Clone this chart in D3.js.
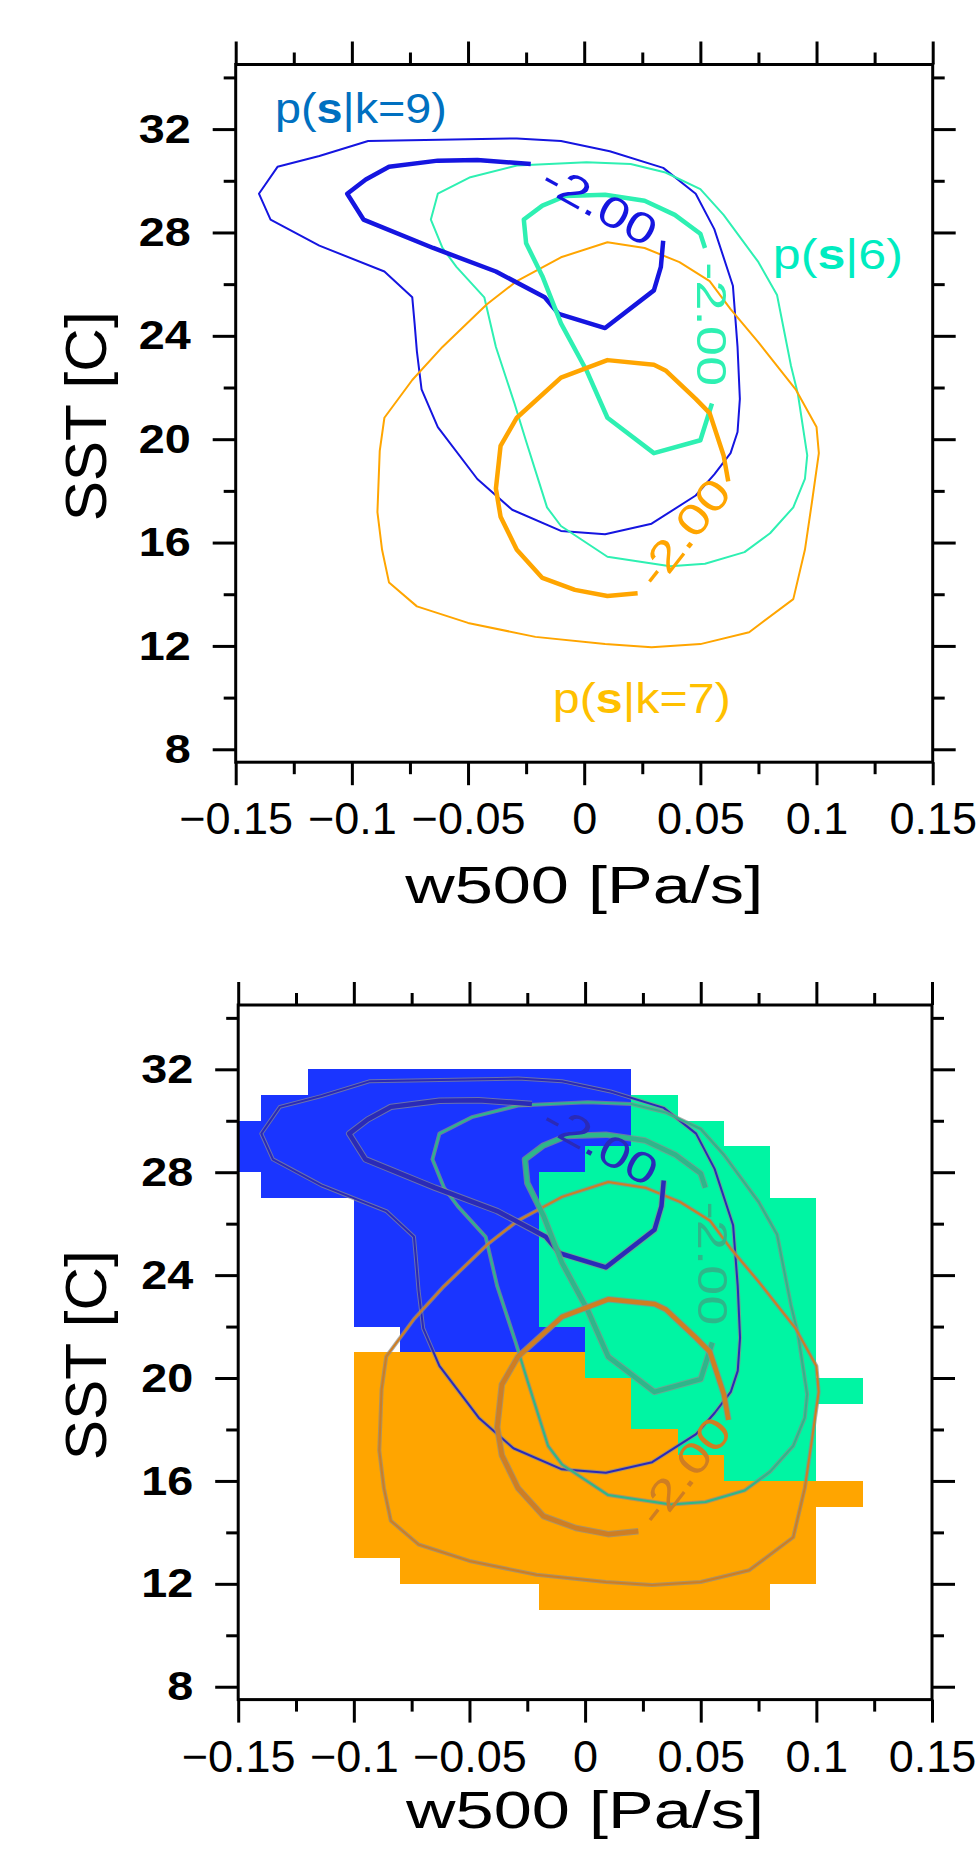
<!DOCTYPE html>
<html>
<head>
<meta charset="utf-8">
<script src="https://cdn.jsdelivr.net/npm/d3@7"></script>
<style>
  body { margin: 0; background: #fff; }
  text { font-family: "Liberation Sans", Arial, Helvetica, sans-serif; }
</style>
</head>
<body>
<div id="chart"></div>
<script>
// canvas
const svgWidth = 976
const svgHeight = 1850

// axes
const xDomain = [-0.15, 0.15]
const yDomain = [7.5, 34.5]
const xMajor = [-0.15, -0.1, -0.05, 0, 0.05, 0.1, 0.15]
const xMinor = [-0.125, -0.075, -0.025, 0.025, 0.075, 0.125]
const yMajor = [8, 12, 16, 20, 24, 28, 32]
const yMinor = [10, 14, 18, 22, 26, 30, 34]

// contours of log p(s|k), points are [w500, SST]
// outer (thin) contour of each cluster, closed
const k9Outer = [[-0.093, 31.54], [-0.029, 31.64], [-0.010, 31.54], [0.011, 31.14], [0.034, 30.50], [0.048, 29.50],
  [0.056, 28.13], [0.064, 25.94], [0.066, 23.57], [0.067, 21.56], [0.066, 20.28], [0.063, 19.46], [0.056, 18.64],
  [0.048, 17.82], [0.029, 16.73], [0.009, 16.32], [-0.010, 16.45], [-0.031, 17.27], [-0.046, 18.46], [-0.063, 20.47],
  [-0.070, 21.93], [-0.072, 23.39], [-0.073, 24.48], [-0.074, 25.49], [-0.086, 26.49], [-0.114, 27.49], [-0.135, 28.50],
  [-0.140, 29.50], [-0.132, 30.54], [-0.114, 30.96]]
const k6Outer = [[-0.063, 29.50], [-0.049, 30.14], [-0.029, 30.59], [0.001, 30.72], [0.020, 30.65], [0.035, 30.32],
  [0.050, 29.68], [0.060, 28.68], [0.075, 26.85], [0.083, 25.58], [0.089, 22.84], [0.092, 21.74], [0.096, 19.37],
  [0.095, 18.46], [0.090, 17.36], [0.080, 16.36], [0.069, 15.63], [0.052, 15.18], [0.037, 15.08], [0.010, 15.45],
  [-0.010, 16.64], [-0.016, 17.36], [-0.025, 19.92], [-0.030, 21.38], [-0.038, 23.57], [-0.043, 25.49], [-0.055, 26.67],
  [-0.061, 27.40], [-0.066, 28.50]]
const k7Outer = [[0.010, 27.62], [-0.010, 27.04], [-0.029, 26.12], [-0.042, 25.21], [-0.061, 23.57], [-0.074, 22.29],
  [-0.086, 20.83], [-0.088, 19.55], [-0.089, 17.18], [-0.087, 15.72], [-0.084, 14.45], [-0.072, 13.53], [-0.050, 12.89],
  [-0.021, 12.35], [0.009, 12.07], [0.029, 11.95], [0.050, 12.07], [0.071, 12.53], [0.090, 13.81], [0.095, 15.72],
  [0.098, 17.55], [0.101, 19.46], [0.100, 20.47], [0.091, 21.93], [0.075, 23.75], [0.063, 25.03], [0.054, 26.12],
  [0.041, 26.85], [0.026, 27.40]]
// inner (thick) -2.00 contour, open where its label sits
const k9Inner = [[-0.023, 30.65], [-0.046, 30.80], [-0.063, 30.78], [-0.084, 30.54], [-0.094, 30.05], [-0.102, 29.50],
  [-0.095, 28.50], [-0.065, 27.40], [-0.038, 26.49], [-0.017, 25.49], [-0.011, 24.85], [0.009, 24.30], [0.030, 25.76],
  [0.033, 26.67], [0.034, 27.68]]
const k6Inner = [[0.055, 21.38], [0.050, 19.96], [0.030, 19.46], [0.010, 20.83], [0.001, 22.66], [-0.010, 24.48],
  [-0.018, 26.31], [-0.025, 27.58], [-0.026, 28.50], [-0.018, 29.04], [-0.008, 29.41], [0.009, 29.46], [0.026, 29.23],
  [0.039, 28.68], [0.050, 27.95], [0.052, 27.40]]
const k7Inner = [[0.023, 14.04], [0.010, 13.93], [-0.004, 14.17], [-0.018, 14.63], [-0.029, 15.72], [-0.036, 17.00],
  [-0.038, 18.09], [-0.036, 19.74], [-0.029, 20.83], [-0.010, 22.38], [0.010, 23.06], [0.030, 22.88], [0.035, 22.66],
  [0.048, 21.56], [0.054, 21.01], [0.060, 19.37], [0.062, 18.37]]

// contour level labels: cluster, [w500, SST] of label centre
const levelText = "-2.00"
const levelLabels = [["9", [0.0068, 29.1]], ["6", [0.0553, 24.45]], ["7", [0.0425, 16.4]]]

// most likely cluster of each grid cell (bottom panel)
// rows from SST 32 down to 11, each row 1 degree; columns from w500 = -0.16, each 0.02 wide
const gridTop = 32
const gridLeft = -0.16
const gridDx = 0.02
const gridDy = 1
const gridRows = [
  "..9999999.......",
  ".999999996......",
  "99999999966.....",
  "999999996666....",
  ".99999966666....",
  "...9999666666...",
  "...9999666666...",
  "...9999666666...",
  "...9999666666...",
  "...9999666666...",
  "....999966666...",
  "...7777766666...",
  "...77777766666..",
  "...7777776666...",
  "...7777777666...",
  "...7777777766...",
  "...77777777777..",
  "...7777777777...",
  "...7777777777...",
  "....777777777...",
  ".......77777...."
]

// colours
const fillColor = {"9": "#1a35ff", "6": "#00f5a3", "7": "#ffa500"}
const lineColor = {"9": "#1515e0", "6": "#2ef0b2", "7": "#ffa500"}
const lineColorDim = {"9": "#2a2ab8", "6": "#2db78a", "7": "#cf7e22"}

const contours = [
  {k: "9", pts: k9Outer, closed: true}, {k: "6", pts: k6Outer, closed: true}, {k: "7", pts: k7Outer, closed: true},
  {k: "9", pts: k9Inner, closed: false}, {k: "6", pts: k6Inner, closed: false}, {k: "7", pts: k7Inner, closed: false}
]
const labelAngle = {"9": 29, "6": 90, "7": -52}

let svg = d3.select("#chart")
  .append("svg")
  .attr("width", svgWidth)
  .attr("height", svgHeight)

svg.append("rect").attr("width", svgWidth).attr("height", svgHeight).attr("fill", "#fff")

let panels = [
  {left: 235.7, right: 932.7, top: 64.5, bottom: 762.2, xLabelGap: 141, filled: false},
  {left: 238.2, right: 932.0, top: 1005.0, bottom: 1699.6, xLabelGap: 128, filled: true}
]

let tickFmt = d3.format("~g")

panels.forEach((p, pi) => {
  let x = d3.scaleLinear().domain(xDomain).range([p.left, p.right])
  let y = d3.scaleLinear().domain(yDomain).range([p.bottom, p.top])
  let g = svg.append("g")

  g.append("clipPath").attr("id", "clip" + pi)
    .append("rect")
    .attr("x", p.left).attr("y", p.top)
    .attr("width", p.right - p.left).attr("height", p.bottom - p.top)

  let plot = g.append("g").attr("clip-path", `url(#clip${pi})`)

  // classification cells
  if (p.filled) {
    gridRows.forEach((row, r) => {
      row.split("").forEach((c, i) => {
        if (!fillColor[c]) return
        let x0 = gridLeft + i * gridDx
        let yTop = gridTop - r * gridDy
        plot.append("rect")
          .attr("x", Math.round(x(x0)))
          .attr("y", Math.round(y(yTop)))
          .attr("width", Math.round(x(x0 + gridDx)) - Math.round(x(x0)))
          .attr("height", Math.round(y(yTop - gridDy)) - Math.round(y(yTop)))
          .attr("fill", fillColor[c])
          .attr("shape-rendering", "crispEdges")
      })
    })
  }

  // contour lines
  let colors = p.filled ? lineColorDim : lineColor
  contours.forEach(c => {
    let line = d3.line()
      .x(d => x(d[0]))
      .y(d => y(d[1]))
      .curve(c.closed ? d3.curveLinearClosed : d3.curveLinear)
    let w = c.closed ? 2 : 4.5
    if (p.filled) {
      plot.append("path")
        .attr("d", line(c.pts))
        .attr("fill", "none")
        .attr("stroke", "#8c8c8c")
        .attr("stroke-opacity", 0.7)
        .attr("stroke-width", w + 2)
        .attr("stroke-linejoin", "round")
    }
    plot.append("path")
      .attr("d", line(c.pts))
      .attr("fill", "none")
      .attr("stroke", colors[c.k])
      .attr("stroke-width", w)
      .attr("stroke-linejoin", "round")
  })

  // contour labels
  levelLabels.forEach(([k, pos]) => {
    plot.append("text")
      .attr("transform", `translate(${x(pos[0])},${y(pos[1])}) rotate(${labelAngle[k]})`)
      .attr("text-anchor", "middle")
      .attr("dy", "0.36em")
      .attr("font-size", 43)
      .attr("textLength", 124)
      .attr("lengthAdjust", "spacingAndGlyphs")
      .attr("fill", colors[k])
      .text(levelText)
  })

  // axes, ticks outward on all four sides
  let styleAxis = sel => {
    sel.select(".domain").remove()
    sel.selectAll("line").attr("stroke", "#000").attr("stroke-width", 3)
  }
  g.append("g").attr("transform", `translate(0,${p.bottom})`)
    .call(d3.axisBottom(x).tickValues(xMajor).tickSize(23).tickPadding(17).tickFormat(tickFmt).tickSizeOuter(0))
    .call(styleAxis)
    .call(s => s.selectAll("text")
      .attr("font-size", 45)
      .attr("font-family", "'Liberation Sans', Arial, sans-serif")
      .attr("fill", "#000"))
  g.append("g").attr("transform", `translate(0,${p.bottom})`)
    .call(d3.axisBottom(x).tickValues(xMinor).tickSize(12).tickFormat("").tickSizeOuter(0))
    .call(styleAxis)
  g.append("g").attr("transform", `translate(0,${p.top})`)
    .call(d3.axisTop(x).tickValues(xMajor).tickSize(23).tickFormat("").tickSizeOuter(0))
    .call(styleAxis)
  g.append("g").attr("transform", `translate(0,${p.top})`)
    .call(d3.axisTop(x).tickValues(xMinor).tickSize(12).tickFormat("").tickSizeOuter(0))
    .call(styleAxis)
  g.append("g").attr("transform", `translate(${p.left},0)`)
    .call(d3.axisLeft(y).tickValues(yMajor).tickSize(23).tickFormat(d3.format("d")).tickSizeOuter(0))
    .call(styleAxis)
    .call(s => s.selectAll("text")
      .attr("x", null)
      .attr("transform", "translate(-45,0) scale(1.14,1)")
      .attr("font-size", 41)
      .attr("font-weight", "bold")
      .attr("font-family", "'Liberation Sans', Arial, sans-serif")
      .attr("fill", "#000"))
  g.append("g").attr("transform", `translate(${p.left},0)`)
    .call(d3.axisLeft(y).tickValues(yMinor).tickSize(12).tickFormat("").tickSizeOuter(0))
    .call(styleAxis)
  g.append("g").attr("transform", `translate(${p.right},0)`)
    .call(d3.axisRight(y).tickValues(yMajor).tickSize(23).tickFormat("").tickSizeOuter(0))
    .call(styleAxis)
  g.append("g").attr("transform", `translate(${p.right},0)`)
    .call(d3.axisRight(y).tickValues(yMinor).tickSize(12).tickFormat("").tickSizeOuter(0))
    .call(styleAxis)

  // frame
  g.append("rect")
    .attr("x", p.left).attr("y", p.top)
    .attr("width", p.right - p.left).attr("height", p.bottom - p.top)
    .attr("fill", "none")
    .attr("stroke", "#000")
    .attr("stroke-width", 3)

  // axis titles
  let cx = (p.left + p.right) / 2
  let cy = (p.top + p.bottom) / 2 + 3
  g.append("text")
    .attr("x", cx - 179)
    .attr("y", p.bottom + p.xLabelGap)
    .attr("font-size", 52)
    .attr("textLength", 358)
    .attr("lengthAdjust", "spacingAndGlyphs")
    .text("w500 [Pa/s]")
  g.append("text")
    .attr("transform", `translate(106,${cy}) rotate(-90)`)
    .attr("x", -105)
    .attr("font-size", 57)
    .attr("textLength", 210)
    .attr("lengthAdjust", "spacingAndGlyphs")
    .text("SST [C]")

  // cluster names, top panel only
  if (!p.filled) {
    let names = [
      {k: "9", pos: [-0.1331, 32.23], width: 172, color: "#0070c0", parts: ["p(", "s", "|k=9)"]},
      {k: "6", pos: [0.0812, 26.58], width: 130, color: "#00ecc0", parts: ["p(", "s", "|6)"]},
      {k: "7", pos: [-0.0135, 9.39], width: 178, color: "#ffc000", parts: ["p(", "s", "|k=7)"]}
    ]
    names.forEach(n => {
      let t = g.append("text")
        .attr("x", x(n.pos[0]))
        .attr("y", y(n.pos[1]))
        .attr("font-family", "Lato, 'Open Sans', sans-serif")
        .attr("font-size", 42)
        .attr("fill", n.color)
        .attr("textLength", n.width)
        .attr("lengthAdjust", "spacingAndGlyphs")
      t.append("tspan").text(n.parts[0])
      t.append("tspan").attr("font-weight", "bold").text(n.parts[1])
      t.append("tspan").text(n.parts[2])
    })
  }
})
</script>
</body>
</html>
